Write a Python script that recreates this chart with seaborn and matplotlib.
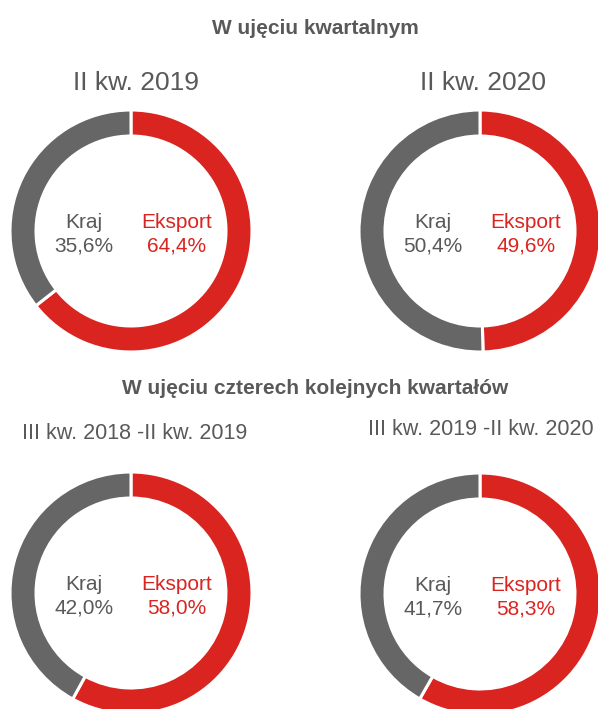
import matplotlib
matplotlib.use("Agg")
import matplotlib.pyplot as plt
import seaborn as sns

# ---- data ----
periods = ["II kw. 2019", "II kw. 2020", "III kw. 2018 -II kw. 2019", "III kw. 2019 -II kw. 2020"]
categories = ["Eksport", "Kraj"]
eksport = [64.4, 49.6, 58.0, 58.3]
kraj = [35.6, 50.4, 42.0, 41.7]
section_titles = ["W ujęciu kwartalnym", "W ujęciu czterech kolejnych kwartałów"]

RED = "#DA2420"
GRAY = "#666666"
TEXT_GRAY = "#595959"

sns.set_theme(style="white")
plt.rcParams["font.family"] = ["Liberation Sans", "DejaVu Sans"]
palette = sns.color_palette([RED, GRAY])

W, H = 598, 709
fig = plt.figure(figsize=(W / 100, H / 100), dpi=100)
fig.patch.set_facecolor("white")

# donut geometry (pixels): centers and radius
centers = [(131, 231), (480, 231), (131, 593), (480, 594)]
R = 121
sub_pos = [(136, 83, 19), (483, 83, 19), (135, 433, 15.5), (481, 430, 15.5)]


def fx(x):
    return x / W


def fy(y):
    return 1 - y / H


for i, (cx, cy) in enumerate(centers):
    ax = fig.add_axes([(cx - R) / W, (H - cy - R) / H, 2 * R / W, 2 * R / H])
    ax.pie([eksport[i], kraj[i]], colors=palette, startangle=90, counterclock=False,
           radius=1.0, wedgeprops=dict(width=0.215, edgecolor="white", linewidth=2.2))
    ax.set_xlim(-1.0, 1.0)
    ax.set_ylim(-1.0, 1.0)
    ax.set_aspect("equal", adjustable="box")
    ax.axis("off")
    ax.text(-0.39, 0.07, categories[1], ha="center", va="center", fontsize=15, color=TEXT_GRAY)
    ax.text(-0.39, -0.12, f"{kraj[i]:.1f}%".replace(".", ","), ha="center", va="center",
            fontsize=15, color=TEXT_GRAY)
    ax.text(0.38, 0.07, categories[0], ha="center", va="center", fontsize=15, color=RED)
    ax.text(0.38, -0.12, f"{eksport[i]:.1f}%".replace(".", ","), ha="center", va="center",
            fontsize=15, color=RED)
    sx, sy, fs = sub_pos[i]
    fig.text(fx(sx), fy(sy), periods[i], ha="center", va="center", fontsize=fs, color=TEXT_GRAY)

fig.text(fx(315), fy(28), section_titles[0], ha="center", va="center", fontsize=15,
         fontweight="bold", color=TEXT_GRAY)
fig.text(fx(315), fy(388), section_titles[1], ha="center", va="center", fontsize=15,
         fontweight="bold", color=TEXT_GRAY)

fig.savefig("out.png", dpi=100, facecolor="white")
